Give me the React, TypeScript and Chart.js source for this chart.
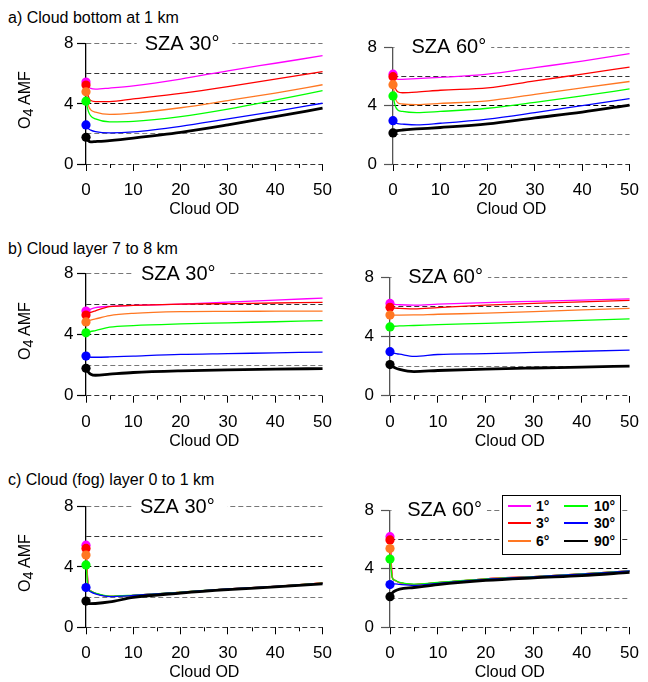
import React, { useEffect, useRef } from "react";
import { Chart, registerables } from "chart.js";
Chart.register(...registerables);

const FONT = "'Liberation Sans', Arial, Helvetica, sans-serif";

// Cloud optical depth sample points (x values)
const CLOUD_OD = [0, 0.5, 1, 2, 5, 10, 20, 30, 40, 50];
const MINOR_X_TICKS = [5, 15, 25, 35, 45];
const ANGLE_LABELS = ["1°", "3°", "6°", "10°", "30°", "90°"];
const COLORS = ["#ff00ff", "#ff0000", "#ff7722", "#00ff00", "#0000ff", "#000000"];

// a) Cloud bottom at 1 km, SZA 30°
const A30_1 = [5.45, 5.15, 5.03, 4.98, 5.05, 5.2, 5.65, 6.2, 6.7, 7.2];
const A30_3 = [5.25, 4.5, 4.22, 4.15, 4.15, 4.33, 4.7, 5.15, 5.65, 6.15];
const A30_6 = [4.8, 3.9, 3.6, 3.45, 3.3, 3.38, 3.74, 4.22, 4.72, 5.27];
const A30_10 = [4.18, 3.5, 3.2, 3.0, 2.8, 2.83, 3.15, 3.65, 4.25, 4.88];
const A30_30 = [2.6, 2.35, 2.25, 2.15, 2.07, 2.13, 2.5, 3.0, 3.5, 4.04];
const A30_90 = [1.78, 1.55, 1.47, 1.49, 1.56, 1.72, 2.1, 2.6, 3.15, 3.71];
// a) SZA 60°
const A60_1 = [6.15, 5.9, 5.8, 5.8, 5.85, 5.93, 6.15, 6.6, 7.05, 7.56];
const A60_3 = [5.98, 5.2, 4.95, 4.88, 4.92, 5.05, 5.21, 5.7, 6.15, 6.64];
const A60_6 = [5.43, 4.5, 4.2, 4.11, 4.07, 4.15, 4.33, 4.77, 5.21, 5.65];
const A60_10 = [4.66, 3.95, 3.7, 3.6, 3.52, 3.6, 3.82, 4.22, 4.66, 5.14];
const A60_30 = [2.97, 2.82, 2.76, 2.73, 2.68, 2.79, 3.08, 3.52, 4.0, 4.48];
const A60_90 = [2.13, 2.25, 2.29, 2.33, 2.4, 2.5, 2.75, 3.16, 3.56, 4.04];
// b) Cloud layer 7 to 8 km, SZA 30°
const B30_1 = [5.55, 5.62, 5.68, 5.77, 5.86, 5.92, 6.0, 6.13, 6.27, 6.4];
const B30_3 = [5.29, 5.4, 5.47, 5.57, 5.84, 5.92, 6.0, 6.04, 6.08, 6.12];
const B30_6 = [4.84, 4.9, 4.95, 5.03, 5.25, 5.4, 5.51, 5.53, 5.54, 5.55];
const B30_10 = [4.12, 4.17, 4.21, 4.27, 4.49, 4.6, 4.71, 4.78, 4.85, 4.92];
const B30_30 = [2.6, 2.55, 2.52, 2.52, 2.54, 2.6, 2.71, 2.76, 2.81, 2.86];
const B30_90 = [1.8, 1.55, 1.41, 1.34, 1.41, 1.52, 1.63, 1.69, 1.74, 1.78];
// b) SZA 60°
const B60_1 = [6.23, 6.19, 6.16, 6.14, 6.12, 6.18, 6.29, 6.37, 6.45, 6.53];
const B60_3 = [5.97, 5.93, 5.91, 5.9, 5.86, 5.95, 6.12, 6.23, 6.33, 6.44];
const B60_6 = [5.44, 5.44, 5.44, 5.44, 5.45, 5.5, 5.57, 5.68, 5.79, 5.9];
const B60_10 = [4.64, 4.67, 4.69, 4.71, 4.74, 4.8, 4.88, 4.98, 5.08, 5.18];
const B60_30 = [2.97, 2.9, 2.85, 2.8, 2.65, 2.78, 2.84, 2.92, 3.0, 3.08];
const B60_90 = [2.1, 1.97, 1.89, 1.78, 1.63, 1.7, 1.8, 1.87, 1.93, 2.0];
// c) Cloud (fog) layer 0 to 1 km, SZA 30°
const C30_1 = [5.45, 2.65, 2.4, 2.25, 2.05, 2.12, 2.33, 2.55, 2.72, 2.94];
const C30_3 = [5.23, 2.63, 2.4, 2.25, 2.05, 2.12, 2.33, 2.55, 2.72, 2.94];
const C30_6 = [4.79, 2.6, 2.4, 2.25, 2.05, 2.12, 2.33, 2.55, 2.72, 2.94];
const C30_10 = [4.14, 2.58, 2.4, 2.27, 2.06, 2.13, 2.34, 2.55, 2.72, 2.93];
const C30_30 = [2.64, 2.45, 2.35, 2.22, 2.04, 2.11, 2.32, 2.54, 2.71, 2.92];
const C30_90 = [1.74, 1.6, 1.57, 1.58, 1.68, 1.98, 2.27, 2.5, 2.68, 2.88];
// c) SZA 60°
const C60_1 = [6.19, 3.4, 3.2, 3.05, 2.92, 3.05, 3.31, 3.46, 3.64, 3.86];
const C60_3 = [5.97, 3.4, 3.2, 3.05, 2.92, 3.05, 3.31, 3.46, 3.64, 3.86];
const C60_6 = [5.38, 3.38, 3.2, 3.05, 2.92, 3.05, 3.31, 3.46, 3.64, 3.86];
const C60_10 = [4.66, 3.35, 3.22, 3.07, 2.95, 3.07, 3.31, 3.46, 3.64, 3.86];
const C60_30 = [2.92, 2.95, 2.97, 2.93, 2.86, 3.0, 3.28, 3.45, 3.63, 3.85];
const C60_90 = [2.09, 2.35, 2.48, 2.61, 2.72, 2.92, 3.2, 3.38, 3.53, 3.75];

const GRID_COLORS: Record<number, string> = { 0: "#333", 2: "#777", 4: "#000", 6: "#333", 8: "#777" };

type PanelCfg = {
  series: number[][];
  left: number; right: number; top: number; bottom: number;
  yw: number; yPad: number; axisColor: string;
  sza: string; szaAt: number; padL: number; padR: number;
};

const PANELS: PanelCfg[] = [
  { series: [A30_1, A30_3, A30_6, A30_10, A30_30, A30_90], left: 86, right: 329, top: 42.5, bottom: 164, yw: 76, yPad: 3.5, axisColor: "#000", sza: "SZA 30°", szaAt: 20.3, padL: 8, padR: 13 },
  { series: [A60_1, A60_3, A60_6, A60_10, A60_30, A60_90], left: 393, right: 636, top: 42.5, bottom: 164, yw: 40, yPad: 7, axisColor: "#555", sza: "SZA 60°", szaAt: 11.8, padL: 20, padR: 5 },
  { series: [B30_1, B30_3, B30_6, B30_10, B30_30, B30_90], left: 86, right: 329, top: 272.7, bottom: 395.7, yw: 76, yPad: 3.5, axisColor: "#000", sza: "SZA 30°", szaAt: 19.5, padL: 8, padR: 13 },
  { series: [B60_1, B60_3, B60_6, B60_10, B60_30, B60_90], left: 390, right: 636, top: 272.7, bottom: 395.7, yw: 40, yPad: 7, axisColor: "#555", sza: "SZA 60°", szaAt: 11.6, padL: 20, padR: 5 },
  { series: [C30_1, C30_3, C30_6, C30_10, C30_30, C30_90], left: 86, right: 329, top: 505, bottom: 627.3, yw: 76, yPad: 3.5, axisColor: "#000", sza: "SZA 30°", szaAt: 19.3, padL: 8, padR: 13 },
  { series: [C60_1, C60_3, C60_6, C60_10, C60_30, C60_90], left: 390, right: 636, top: 505, bottom: 627.3, yw: 40, yPad: 7, axisColor: "#555", sza: "SZA 60°", szaAt: 11.4, padL: 20, padR: 5 },
];

const SECTION_TITLES = [
  { text: "a) Cloud bottom at 1 km", top: 9 },
  { text: "b) Cloud layer 7 to 8 km", top: 239.5 },
  { text: "c) Cloud (fog) layer 0 to 1 km", top: 470.5 },
];

function Panel({ cfg }: { cfg: PanelCfg }) {
  const ref = useRef<HTMLCanvasElement>(null);
  const canvasLeft = cfg.left - cfg.yw;
  const canvasTop = Math.floor(cfg.top) - 12;
  const canvasW = cfg.right + 12 - canvasLeft;
  const canvasH = Math.min(682, Math.round(cfg.bottom + 55)) - canvasTop;
  const xAxisH = canvasTop + canvasH - cfg.bottom;
  const padTop = cfg.top - canvasTop;

  useEffect(() => {
    const overlay = {
      id: "overlay",
      afterDraw(chart: any) {
        const { ctx, chartArea, scales } = chart;
        const xs = scales.x;
        // minor x ticks
        ctx.save();
        ctx.strokeStyle = "#000";
        ctx.lineWidth = 1;
        MINOR_X_TICKS.forEach((v) => {
          const px = Math.round(xs.getPixelForValue(v)) + 0.5;
          ctx.beginPath();
          ctx.moveTo(px, chartArea.bottom);
          ctx.lineTo(px, chartArea.bottom + 4);
          ctx.stroke();
        });
        // SZA label with white background
        ctx.font = `20px ${FONT}`;
        const w = ctx.measureText(cfg.sza).width;
        const cx = xs.getPixelForValue(cfg.szaAt);
        const cy = chartArea.top;
        const x0 = Math.max(chartArea.left + 1.5, cx - w / 2 - cfg.padL);
        const x1 = cx + w / 2 + cfg.padR;
        ctx.fillStyle = "#fff";
        ctx.fillRect(x0, cy - 11, x1 - x0, 20);
        ctx.fillStyle = "#000";
        ctx.textAlign = "center";
        ctx.textBaseline = "middle";
        ctx.fillText(cfg.sza, cx, cy + 0.5);
        ctx.restore();
      },
    };

    const chart = new Chart(ref.current as HTMLCanvasElement, {
      type: "line",
      data: {
        datasets: cfg.series.map((vals, i) => ({
          label: ANGLE_LABELS[i],
          data: CLOUD_OD.map((x, j) => ({ x, y: vals[j] })),
          borderColor: COLORS[i],
          backgroundColor: COLORS[i],
          borderWidth: i === 5 ? 2.8 : 1.3,
          pointRadius: (c: any) => (c.dataIndex === 0 ? 4.6 : 0),
          pointHoverRadius: 0,
          pointBorderWidth: 0,
          pointBackgroundColor: COLORS[i],
          cubicInterpolationMode: "monotone",
          clip: false,
          order: 5 - i,
        })) as any,
      },
      options: {
        responsive: false,
        maintainAspectRatio: false,
        animation: false,
        events: [],
        layout: { padding: { left: 0, right: 12, top: padTop, bottom: 0 } },
        plugins: { legend: { display: false }, tooltip: { enabled: false } },
        scales: {
          x: {
            type: "linear",
            min: 0,
            max: 50,
            afterFit: (s: any) => { s.height = xAxisH; },
            ticks: {
              stepSize: 5,
              autoSkip: false,
              maxRotation: 0,
              padding: 9,
              color: "#000",
              font: { family: FONT, size: 17, lineHeight: 1.2 },
              callback: (v: any) => (Number(v) % 10 === 0 ? String(v) : ""),
            },
            grid: {
              drawOnChartArea: false,
              drawTicks: true,
              tickLength: 7,
              tickWidth: 1,
              tickColor: (c: any) => (c.tick && c.tick.value % 10 === 0 ? "#000" : "rgba(0,0,0,0)"),
            },
            border: { display: false },
            title: {
              display: true,
              text: "Cloud OD",
              color: "#000",
              font: { family: FONT, size: 16, lineHeight: 1.2 },
              padding: { top: 0, bottom: 0 },
            },
          },
          y: {
            type: "linear",
            min: 0,
            max: 8,
            afterFit: (s: any) => { s.width = cfg.yw; },
            ticks: {
              stepSize: 2,
              autoSkip: false,
              padding: cfg.yPad,
              color: "#000",
              font: { family: FONT, size: 17, lineHeight: 1.2 },
              callback: (v: any) => (Number(v) % 4 === 0 ? String(v) : ""),
            },
            grid: {
              drawTicks: true,
              tickLength: 9,
              lineWidth: 1,
              color: (c: any) => GRID_COLORS[c.tick ? c.tick.value : 0] || "#555",
              tickColor: (c: any) => (c.tick && c.tick.value % 4 === 0 ? cfg.axisColor : "rgba(0,0,0,0)"),
              tickWidth: 1.2,
            },
            border: { display: true, color: cfg.axisColor, width: 1.3, dash: [5, 3] },
          },
        },
      } as any,
      plugins: [overlay],
    });
    return () => chart.destroy();
  }, []);

  return (
    <canvas
      ref={ref}
      width={canvasW}
      height={canvasH}
      style={{ position: "absolute", left: canvasLeft, top: canvasTop, width: canvasW, height: canvasH }}
    />
  );
}

function YTitle({ cy }: { cy: number }) {
  return (
    <div
      style={{
        position: "absolute",
        left: 25,
        top: cy,
        transform: "translate(-50%, -50%) rotate(-90deg)",
        whiteSpace: "nowrap",
        font: `16px ${FONT}`,
        color: "#000",
        lineHeight: "18px",
      }}
    >
      O<span style={{ fontSize: "0.9em", position: "relative", top: "0.22em" }}>4</span> AMF
    </div>
  );
}

function Legend() {
  const rows = [0, 1, 2];
  const cols = [
    { lineL: 508, lineW: 23, textL: 536 },
    { lineL: 564, lineW: 24, textL: 594 },
  ];
  return (
    <div>
      <div
        style={{
          position: "absolute",
          left: 501.5,
          top: 495,
          width: 119,
          height: 60,
          border: "1.5px solid #000",
          background: "#fff",
          boxSizing: "border-box",
        }}
      />
      {cols.map((col, ci) =>
        rows.map((ri) => {
          const idx = ci * 3 + ri;
          const cy = Math.round(506 + ri * 17.4);
          return (
            <React.Fragment key={idx}>
              <div
                style={{
                  position: "absolute",
                  left: col.lineL,
                  top: cy - 1,
                  width: col.lineW,
                  height: 2,
                  background: COLORS[idx],
                }}
              />
              <div
                style={{
                  position: "absolute",
                  left: col.textL,
                  top: cy - 8,
                  font: `bold 14px ${FONT}`,
                  lineHeight: "16px",
                  color: "#000",
                  whiteSpace: "nowrap",
                }}
              >
                {ANGLE_LABELS[idx]}
              </div>
            </React.Fragment>
          );
        })
      )}
    </div>
  );
}

export default function App() {
  useEffect(() => {
    Chart.defaults.font.family = FONT;
  }, []);
  return (
    <div
      style={{
        position: "absolute",
        left: 0,
        top: 0,
        width: 648,
        height: 682,
        overflow: "hidden",
        background: "#fff",
        fontFamily: FONT,
      }}
    >
      {SECTION_TITLES.map((t) => (
        <div
          key={t.text}
          style={{
            position: "absolute",
            left: 8,
            top: t.top,
            font: `16px ${FONT}`,
            lineHeight: "18px",
            color: "#000",
            whiteSpace: "nowrap",
          }}
        >
          {t.text}
        </div>
      ))}
      {PANELS.map((p, i) => (
        <Panel key={i} cfg={p} />
      ))}
      <YTitle cy={100} />
      <YTitle cy={331} />
      <YTitle cy={563} />
      <Legend />
    </div>
  );
}
